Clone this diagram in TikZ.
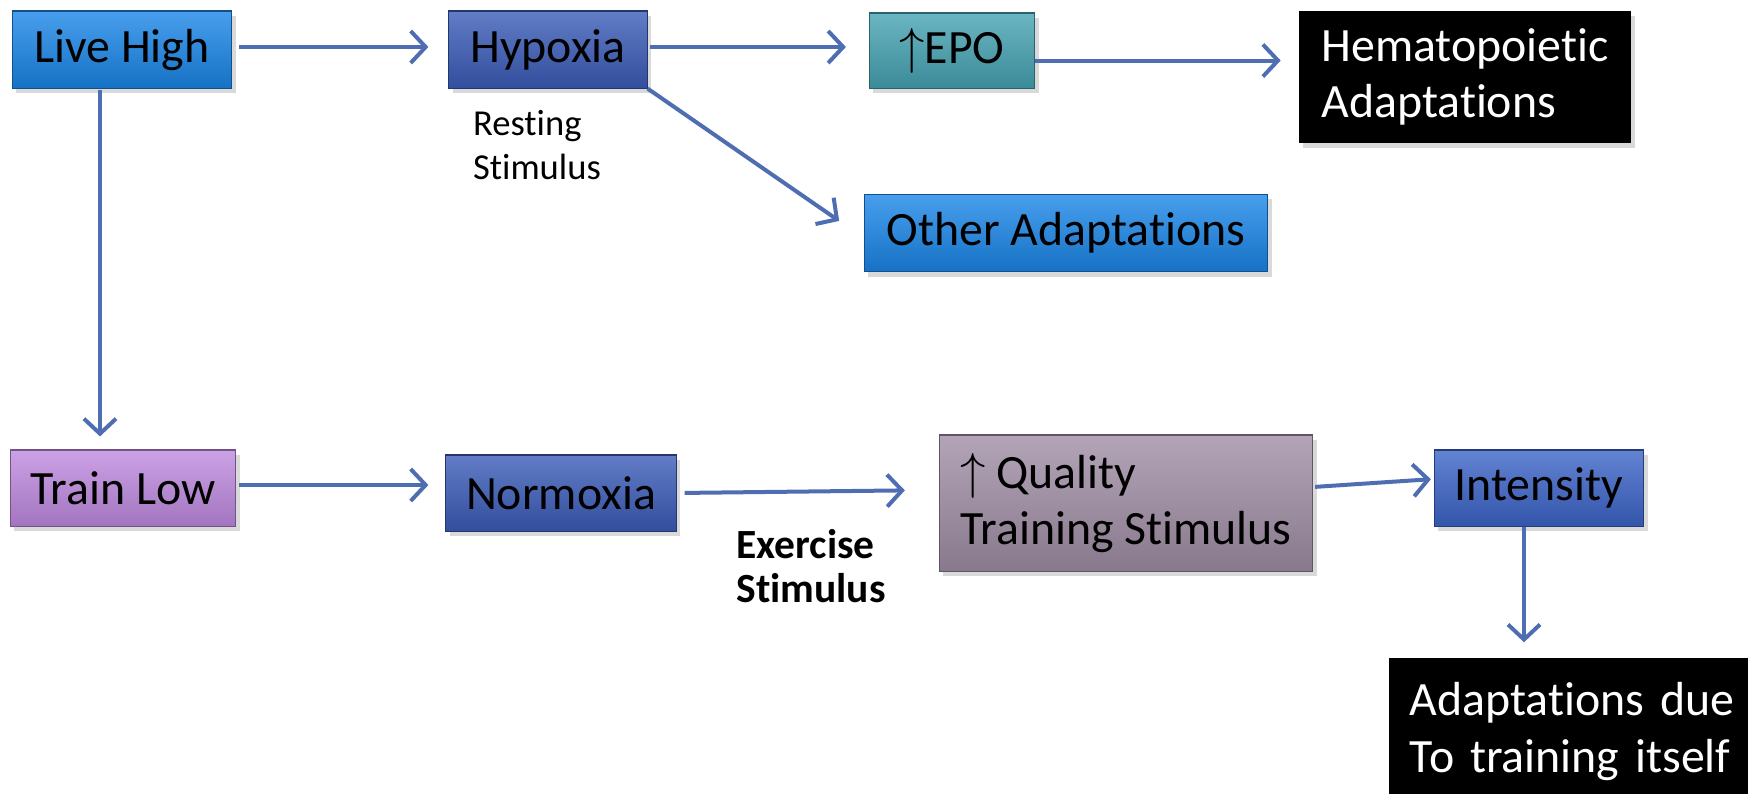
\documentclass[tikz,border=0pt]{standalone}
\usepackage{fontspec}
\setmainfont{Carlito}[Ligatures=NoCommon]
\usetikzlibrary{arrows.meta, shadows}

\definecolor{skyblue}{RGB}{26,134,232}
\definecolor{royal}{RGB}{59,92,184}
\definecolor{royallight}{RGB}{60,100,200}
\definecolor{teal}{RGB}{70,163,179}
\definecolor{lilac}{RGB}{191,138,224}
\definecolor{mauve}{RGB}{160,142,166}
\definecolor{arrowblue}{RGB}{79,110,178}

\begin{document}
\begin{tikzpicture}[
  x=0.01cm, y=-0.01cm,
  box/.style={draw=#1!60!black, line width=0.3pt, top color=#1!80!white, bottom color=#1!85!black,
    inner sep=0pt, font=\fontsize{13.6}{16}\selectfont,
    drop shadow={opacity=0.3, shadow xshift=0.04cm, shadow yshift=-0.05cm}},
  blackbox/.style={fill=black, text=white, align=left, inner sep=0pt, font=\fontsize{13.6}{16}\selectfont,
    drop shadow={opacity=0.3, shadow xshift=0.04cm, shadow yshift=-0.05cm}},
  note/.style={align=left, inner sep=0pt},
  arr/.style={-{Straight Barb[length=0.15cm, width=0.32cm]}, line width=0.04cm, draw=arrowblue}
]
\useasboundingbox (0,0) rectangle (1748,793);

% top row
\node[box=skyblue, minimum width=2.19cm, minimum height=0.77cm] (live) at (122,49.5) {Live High};
\node[box=royal, minimum width=1.98cm, minimum height=0.77cm] (hyp) at (548,49.5) {Hypoxia};
\node[box=teal, minimum width=1.65cm, minimum height=0.75cm] (epo) at (952,50.5) {$\uparrow$EPO};
\node[blackbox, minimum width=3.31cm, minimum height=1.32cm] (hema) at (1465,77) {Hematopoietic\\Adaptations};
\node[box=skyblue, minimum width=4.03cm, minimum height=0.77cm] (other) at (1066,233) {Other Adaptations};
\node[note, font=\fontsize{10.4}{12.5}\selectfont] (rest) at (537,145) {Resting\\Stimulus};

% bottom row
\node[box=lilac, minimum width=2.25cm, minimum height=0.76cm] (train) at (123,488) {Train Low};
\node[box=royal, minimum width=2.30cm, minimum height=0.76cm] (norm) at (561,493) {Normoxia};
\node[box=mauve, align=left, minimum width=3.73cm, minimum height=1.36cm] (qual) at (1126,503) {$\uparrow$ Quality\\Training Stimulus};
\node[box=royallight, minimum width=2.09cm, minimum height=0.76cm] (inten) at (1539,488) {Intensity};
\node[note, font=\bfseries\fontsize{11.8}{12.7}\selectfont] (exer) at (811,566) {Exercise\\Stimulus};
\node[blackbox, inner xsep=0.21cm, text width=3.29cm, minimum height=1.47cm] (adapt) at (1574.5,731.5) {Adaptations due\\To training itself};

\draw[arr, shorten <=0.07cm, shorten >=0.2cm] ([yshift=0.025cm]live.east) -- ([yshift=0.025cm]hyp.west);
\draw[arr, shorten <=0.02cm, shorten >=0.23cm] ([yshift=0.025cm]hyp.east) -- ([yshift=0.025cm]hyp.east -| epo.west);
\draw[arr, shorten >=0.18cm] ([yshift=-0.1cm]epo.east) -- ([yshift=-0.1cm]epo.east -| hema.west);
\draw[arr, shorten >=0.3cm] (hyp.south east) -- ([yshift=-0.05cm]other.west);
\draw[arr, shorten <=0.01cm, shorten >=0.13cm] ([xshift=-0.22cm]live.south) -- ([xshift=-0.22cm]live.south |- train.north);
\draw[arr, shorten <=0.03cm, shorten >=0.17cm] ([yshift=0.03cm]train.east) -- ([yshift=0.03cm]train.east -| norm.west);
\draw[arr, shorten <=0.08cm, shorten >=0.34cm] (norm.east) -- ([yshift=0.13cm]qual.west);
\draw[arr, shorten <=0.02cm, shorten >=0.03cm] ([yshift=0.16cm]qual.east) -- ([yshift=0.09cm]inten.west);
\draw[arr, shorten >=0.15cm] ([xshift=-0.15cm]inten.south) -- ([xshift=-0.15cm]inten.south |- adapt.north);
\end{tikzpicture}
\end{document}
